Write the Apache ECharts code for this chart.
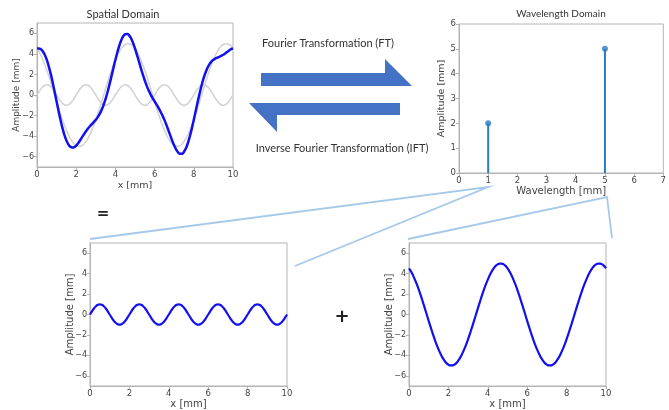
<!DOCTYPE html>
<html><head><meta charset="utf-8">
<script src="https://cdn.jsdelivr.net/npm/echarts@6/dist/echarts.min.js"></script>
<style>html,body{margin:0;padding:0;background:#fff}#c{width:669px;height:410px}</style>
</head><body><div id="c"></div>
<script>
// x positions [mm]
const xs = [0,0.1,0.2,0.3,0.4,0.5,0.6,0.7,0.8,0.9,1,1.1,1.2,1.3,1.4,1.5,1.6,1.7,1.8,1.9,2,2.1,2.2,2.3,2.4,2.5,2.6,2.7,2.8,2.9,3,3.1,3.2,3.3,3.4,3.5,3.6,3.7,3.8,3.9,4,4.1,4.2,4.3,4.4,4.5,4.6,4.7,4.8,4.9,5,5.1,5.2,5.3,5.4,5.5,5.6,5.7,5.8,5.9,6,6.1,6.2,6.3,6.4,6.5,6.6,6.7,6.8,6.9,7,7.1,7.2,7.3,7.4,7.5,7.6,7.7,7.8,7.9,8,8.1,8.2,8.3,8.4,8.5,8.6,8.7,8.8,8.9,9,9.1,9.2,9.3,9.4,9.5,9.6,9.7,9.8,9.9,10];
// short-wavelength component (amplitude 1)
const shortWave = [0,0.31,0.59,0.81,0.95,1,0.95,0.81,0.59,0.31,0,-0.31,-0.59,-0.81,-0.95,-1,-0.95,-0.81,-0.59,-0.31,
  0,0.31,0.59,0.81,0.95,1,0.95,0.81,0.59,0.31,0,-0.31,-0.59,-0.81,-0.95,-1,-0.95,-0.81,-0.59,-0.31,
  0,0.31,0.59,0.81,0.95,1,0.95,0.81,0.59,0.31,0,-0.31,-0.59,-0.81,-0.95,-1,-0.95,-0.81,-0.59,-0.31,
  0,0.31,0.59,0.81,0.95,1,0.95,0.81,0.59,0.31,0,-0.31,-0.59,-0.81,-0.95,-1,-0.95,-0.81,-0.59,-0.31,
  0,0.31,0.59,0.81,0.95,1,0.95,0.81,0.59,0.31,0,-0.31,-0.59,-0.81,-0.95,-1,-0.95,-0.81,-0.59,-0.31,0];
// long-wavelength component (amplitude 5)
const longWave = [4.52,4.22,3.85,3.42,2.94,2.41,1.84,1.24,0.63,0,-0.63,-1.24,-1.84,-2.41,-2.94,-3.42,-3.85,-4.22,-4.52,-4.76,-4.91,-4.99,-4.99,-4.91,-4.76,-4.52,-4.22,-3.85,-3.42,-2.94,-2.41,-1.84,-1.24,-0.63,0,0.63,1.24,1.84,2.41,2.94,3.42,3.85,4.22,4.52,4.76,4.91,4.99,4.99,4.91,4.76,
  4.52,4.22,3.85,3.42,2.94,2.41,1.84,1.24,0.63,0,-0.63,-1.24,-1.84,-2.41,-2.94,-3.42,-3.85,-4.22,-4.52,-4.76,-4.91,-4.99,-4.99,-4.91,-4.76,-4.52,-4.22,-3.85,-3.42,-2.94,-2.41,-1.84,-1.24,-0.63,0,0.63,1.24,1.84,2.41,2.94,3.42,3.85,4.22,4.52,4.76,4.91,4.99,4.99,4.91,4.76,4.52];
// combined signal
const combined = [4.52,4.53,4.44,4.23,3.89,3.41,2.79,2.05,1.22,0.31,-0.63,-1.55,-2.43,-3.22,-3.89,-4.42,-4.80,-5.03,-5.11,-5.07,
  -4.91,-4.68,-4.40,-4.10,-3.81,-3.52,-3.27,-3.04,-2.83,-2.63,-2.41,-2.15,-1.83,-1.44,-0.95,-0.37,0.29,1.03,1.82,2.63,
  3.42,4.16,4.81,5.33,5.71,5.91,5.94,5.80,5.50,5.07,4.52,3.91,3.26,2.61,1.99,1.41,0.89,0.43,0.04,-0.31,
  -0.63,-0.93,-1.25,-1.60,-1.99,-2.42,-2.90,-3.41,-3.93,-4.45,-4.91,-5.30,-5.58,-5.72,-5.71,-5.52,-5.17,-4.66,-4.01,-3.25,
  -2.41,-1.53,-0.65,0.18,0.95,1.63,2.19,2.65,3.00,3.25,3.42,3.54,3.63,3.71,3.81,3.91,4.04,4.18,4.32,4.45,4.52];
// wavelength domain stems
const wavelengths = [1, 5];
const amplitudes = [2, 5];
// tick labels
const ampTicks = [-6,-4,-2,0,2,4,6];

function pairs(x, y){ return x.map((v,i)=>[v,y[i]]); }
const axFont = 'DejaVu Sans';
const txtCol = '#444';
const frameCol = '#b4b4b4';
function fmt(v){ return String(v).replace('-', '\u2212'); }

function xAx(gi, name, min, max, interval, gap, nfs){
  return {type:'value', gridIndex:gi, min, max, interval,
    name, nameLocation:'middle', nameGap:gap,
    nameTextStyle:{fontFamily:axFont,fontSize:nfs,color:txtCol},
    axisLine:{show:true,onZero:false,lineStyle:{color:frameCol}},
    axisTick:{show:true,length:3,lineStyle:{color:frameCol}},
    axisLabel:{fontFamily:axFont,fontSize:8.5,color:txtCol,margin:3,formatter:fmt},
    splitLine:{show:false}};
}
function yAmp(gi, gap, nfs){
  return {type:'value', gridIndex:gi, min:-7, max:7,
    name:'Amplitude [mm]', nameLocation:'middle', nameGap:gap, nameMoveOverlap:false,
    nameTextStyle:{fontFamily:axFont,fontSize:nfs,color:txtCol},
    axisLine:{show:true,onZero:false,lineStyle:{color:frameCol}},
    axisTick:{show:true,length:3,customValues:ampTicks,lineStyle:{color:frameCol}},
    axisLabel:{fontFamily:axFont,fontSize:8,color:txtCol,margin:3,customValues:ampTicks,formatter:fmt},
    splitLine:{show:false}};
}
const gridBase = {show:true, borderColor:frameCol, borderWidth:1, backgroundColor:'#fff'};
const lightBlue = '#a6c9ea';
const arrowBlue = '#4472c4';

const option = {
  animation:false,
  grid:[
    Object.assign({left:37, top:23, width:196, height:144}, gridBase),
    Object.assign({left:459, top:24, width:206, height:149}, gridBase),
    Object.assign({left:90, top:243, width:197, height:146}, gridBase),
    Object.assign({left:409, top:243, width:197, height:146}, gridBase)
  ],
  xAxis:[
    xAx(0,'x [mm]',0,10,2,14,9.5),
    xAx(1,'Wavelength [mm]',0,7,1,13,10),
    xAx(2,'x [mm]',0,10,2,13,10),
    xAx(3,'x [mm]',0,10,2,13,10)
  ],
  yAxis:[
    yAmp(0,16,9),
    {type:'value', gridIndex:1, min:0, max:6, interval:1,
      name:'Amplitude [mm]', nameLocation:'middle', nameGap:12, nameMoveOverlap:false,
      nameTextStyle:{fontFamily:axFont,fontSize:9.5,color:txtCol},
      axisLine:{show:true,onZero:false,lineStyle:{color:frameCol}},
      axisTick:{show:true,length:3,lineStyle:{color:frameCol}},
      axisLabel:{fontFamily:axFont,fontSize:8.5,color:txtCol,margin:3},
      splitLine:{show:false}},
    yAmp(2,15,10),
    yAmp(3,15,10)
  ],
  series:[
    {type:'line', xAxisIndex:0, yAxisIndex:0, data:pairs(xs,shortWave), smooth:true, symbol:'none', lineStyle:{color:'#d2d2d2',width:1.5}},
    {type:'line', xAxisIndex:0, yAxisIndex:0, data:pairs(xs,longWave), smooth:true, symbol:'none', lineStyle:{color:'#d2d2d2',width:1.5}},
    {type:'line', xAxisIndex:0, yAxisIndex:0, data:pairs(xs,combined), smooth:true, symbol:'none', lineStyle:{color:'#1010f0',width:2.5}},
    {type:'bar', xAxisIndex:1, yAxisIndex:1, data:pairs(wavelengths,amplitudes), barWidth:2, itemStyle:{color:'#2a7cc0'}},
    {type:'scatter', xAxisIndex:1, yAxisIndex:1, data:pairs(wavelengths,amplitudes), symbolSize:6, itemStyle:{color:'#2a7cc0'}},
    {type:'line', xAxisIndex:2, yAxisIndex:2, data:pairs(xs,shortWave), smooth:true, symbol:'none', lineStyle:{color:'#1010f0',width:2.2}},
    {type:'line', xAxisIndex:3, yAxisIndex:3, data:pairs(xs,longWave), smooth:true, symbol:'none', lineStyle:{color:'#1010f0',width:2.2}}
  ],
  graphic:[
    {type:'text', style:{text:'Spatial Domain', x:123, y:14, align:'center', verticalAlign:'middle', fontFamily:'Lato', fontSize:11, fill:'#333'}},
    {type:'text', style:{text:'Wavelength Domain', x:561, y:14, align:'center', verticalAlign:'middle', fontFamily:'Lato', fontSize:10, fill:'#333'}},
    {type:'text', style:{text:'Fourier Transformation (FT)', x:328, y:43, align:'center', verticalAlign:'middle', fontFamily:'Lato', fontSize:11, fill:'#333'}},
    {type:'text', style:{text:'Inverse Fourier Transformation (IFT)', x:342, y:148, align:'center', verticalAlign:'middle', fontFamily:'Lato', fontSize:11, fill:'#333'}},
    {type:'polygon', shape:{points:[[261,73],[385,73],[385,59],[412,86],[261,86]]}, style:{fill:arrowBlue}},
    {type:'polygon', shape:{points:[[400,103],[249,103],[277,132],[277,115],[400,115]]}, style:{fill:arrowBlue}},
    {type:'polyline', shape:{points:[[90,239],[488,187],[295,266]]}, style:{stroke:lightBlue,lineWidth:1.8,fill:null}},
    {type:'polyline', shape:{points:[[408,239],[607,197],[612,238]]}, style:{stroke:lightBlue,lineWidth:1.8,fill:null}},
    {type:'text', style:{text:'=', x:103, y:214, align:'center', verticalAlign:'middle', fontFamily:'DejaVu Sans', fontWeight:'bold', fontSize:15, fill:'#222'}},
    {type:'text', style:{text:'+', x:342, y:317, align:'center', verticalAlign:'middle', fontFamily:'DejaVu Sans', fontWeight:'bold', fontSize:18, fill:'#222'}}
  ]
};
const chart = echarts.init(document.getElementById('c'), null, {renderer:'canvas'});
chart.setOption(option);
</script></body></html>
